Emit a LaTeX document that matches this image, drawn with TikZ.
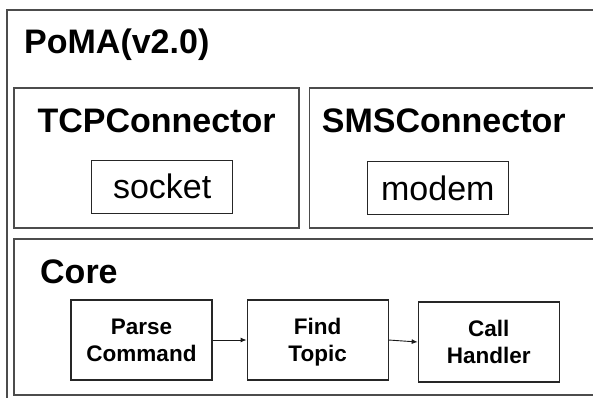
\documentclass[tikz,border=0pt]{standalone}
\usepackage{fontspec}
\setmainfont{Liberation Sans}
\usetikzlibrary{arrows.meta,positioning}

\begin{document}
\begin{tikzpicture}[
  x=1pt, y=-1pt,
  node distance=34pt,
  panel/.style={
    draw=black!70,
    line width=1.5pt,
    anchor=north west,
    inner sep=0pt,
    minimum width=#1
  },
  heading/.style={
    anchor=base west,
    inner sep=0pt,
    font=\fontsize{34}{40}\selectfont\bfseries
  },
  part/.style={
    draw=black!85,
    line width=1pt,
    inner sep=0pt,
    minimum width=141pt,
    minimum height=53pt,
    font=\fontsize{34}{40}\selectfont
  },
  stagebox/.style={
    draw=black!85,
    line width=1.1pt,
    align=center,
    inner sep=0pt,
    minimum width=141pt,
    minimum height=80pt,
    font=\fontsize{22.5}{27}\selectfont\bfseries
  },
  arrow/.style={-{Latex[length=6pt,width=5pt]}, line width=0.9pt, draw=black!90}
]
\clip (0,0) rectangle (593,397);

% containers
\node[panel=700pt, minimum height=450pt] (poma) at (6,9.3) {};
\node[panel=284.7pt, minimum height=140pt] (tcp) at (13.3,87.3) {};
\node[panel=400pt, minimum height=140pt] (sms) at (308.7,87.3) {};
\node[panel=700pt, minimum height=155.7pt] (core) at (13.3,238.3) {};

% titles
\node[heading] (pomatitle) at (24,53) {PoMA(v2.0)};
\node[heading, anchor=base] (tcptitle) at (156.5,132.7) {TCPConnector};
\node[heading] (smstitle) at (321.7,132.7) {SMSConnector};
\node[heading] (coretitle) at (40,283) {Core};

% connector parts
\node[part] (socket) at (162.2,186.7) {socket};
\node[part] (modem) at (437.8,188) {modem};

% core pipeline
\node[stagebox] (parse) at (141.5,340) {Parse\\Command};
\node[stagebox, right=of parse] (find) {Find\\\smash{Topic}};
\node[stagebox, right=29pt of find, yshift=-2pt] (call) {Call\\Handler};

\draw[arrow] (parse) -- (find);
\draw[arrow] (find.east) -- (call.west);
\end{tikzpicture}
\end{document}
